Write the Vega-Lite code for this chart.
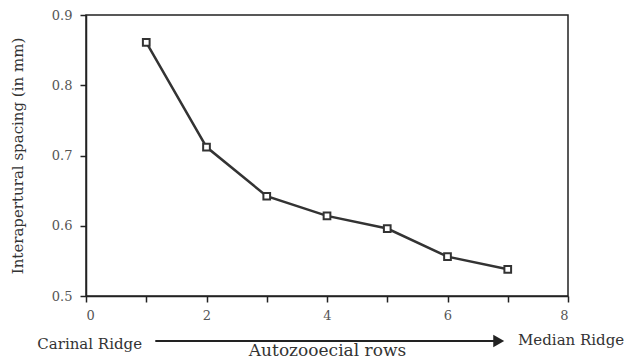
{
  "$schema": "https://vega.github.io/schema/vega-lite/v6.json",
  "width": 482,
  "height": 281,
  "autosize": "none",
  "padding": {"left": 86, "top": 15, "right": 60, "bottom": 68},
  "background": "white",
  "config": {
    "view": {"stroke": "#222", "strokeWidth": 1.5},
    "font": "DejaVu Serif"
  },
  "datasets": {
    "series": [
      {"row": 1, "spacing": 0.861},
      {"row": 2, "spacing": 0.712},
      {"row": 3, "spacing": 0.642},
      {"row": 4, "spacing": 0.614},
      {"row": 5, "spacing": 0.596},
      {"row": 6, "spacing": 0.556},
      {"row": 7, "spacing": 0.538}
    ],
    "left_note": [{"label": "Carinal Ridge", "x": 0.93, "y": 0.432}],
    "right_note": [{"label": "Median Ridge", "x": 7.17, "y": 0.437}],
    "arrow": [{"x1": 1.15, "x2": 6.8, "y": 0.436}],
    "head": [{"x": 6.85, "y": 0.436}]
  },
  "layer": [
    {
      "data": {"name": "series"},
      "mark": {"type": "line", "color": "#333", "strokeWidth": 2.5},
      "encoding": {
        "x": {
          "field": "row", "type": "quantitative",
          "scale": {"domain": [0, 8], "nice": false},
          "axis": {
            "values": [0, 1, 2, 3, 4, 5, 6, 7, 8],
            "labelExpr": "datum.value % 2 == 0 ? format(datum.value, 'd') : ''",
            "tickSize": 6, "labelPadding": 7, "tickWidth": 1.5, "tickColor": "#222",
            "domainColor": "#222", "domainWidth": 1.5, "grid": false,
            "labelFont": "DejaVu Serif", "labelFontSize": 13, "labelColor": "#555",
            "titleFont": "DejaVu Serif", "titleFontSize": 17, "titleFontWeight": "normal", "titleColor": "#333",
            "title": "Autozooecial rows", "titlePadding": 20
          }
        },
        "y": {
          "field": "spacing", "type": "quantitative",
          "scale": {"domain": [0.5, 0.9], "nice": false, "zero": false},
          "axis": {
            "values": [0.5, 0.55, 0.6, 0.65, 0.7, 0.75, 0.8, 0.85, 0.9],
            "labelExpr": "abs(datum.value*10 - round(datum.value*10)) < 0.001 ? format(datum.value, '.1f') : ''",
            "tickSize": 6, "labelPadding": 8, "tickWidth": 1.5, "tickColor": "#222",
            "domainColor": "#222", "domainWidth": 1.5, "grid": false,
            "labelFont": "DejaVu Serif", "labelFontSize": 13, "labelColor": "#555",
            "titleFont": "DejaVu Serif", "titleFontSize": 15, "titleFontWeight": "normal", "titleColor": "#333",
            "title": "Interapertural spacing (in mm)", "titlePadding": 26
          }
        }
      }
    },
    {
      "data": {"name": "series"},
      "mark": {"type": "point", "shape": "square", "filled": false, "fill": "white", "stroke": "#333", "strokeWidth": 2, "size": 45, "opacity": 1},
      "encoding": {
        "x": {"field": "row", "type": "quantitative"},
        "y": {"field": "spacing", "type": "quantitative"}
      }
    },
    {
      "data": {"name": "arrow"},
      "mark": {"type": "rule", "color": "#222", "strokeWidth": 2, "clip": false},
      "encoding": {
        "x": {"field": "x1", "type": "quantitative"},
        "x2": {"field": "x2"},
        "y": {"field": "y", "type": "quantitative"}
      }
    },
    {
      "data": {"name": "head"},
      "mark": {"type": "point", "shape": "triangle-right", "filled": true, "color": "#222", "size": 160, "opacity": 1, "clip": false},
      "encoding": {
        "x": {"field": "x", "type": "quantitative"},
        "y": {"field": "y", "type": "quantitative"}
      }
    },
    {
      "data": {"name": "left_note"},
      "mark": {"type": "text", "fontSize": 15, "color": "#333", "baseline": "middle", "align": "right", "clip": false},
      "encoding": {
        "x": {"field": "x", "type": "quantitative"},
        "y": {"field": "y", "type": "quantitative"},
        "text": {"field": "label"}
      }
    },
    {
      "data": {"name": "right_note"},
      "mark": {"type": "text", "fontSize": 15, "color": "#333", "baseline": "middle", "align": "left", "clip": false},
      "encoding": {
        "x": {"field": "x", "type": "quantitative"},
        "y": {"field": "y", "type": "quantitative"},
        "text": {"field": "label"}
      }
    }
  ]
}
